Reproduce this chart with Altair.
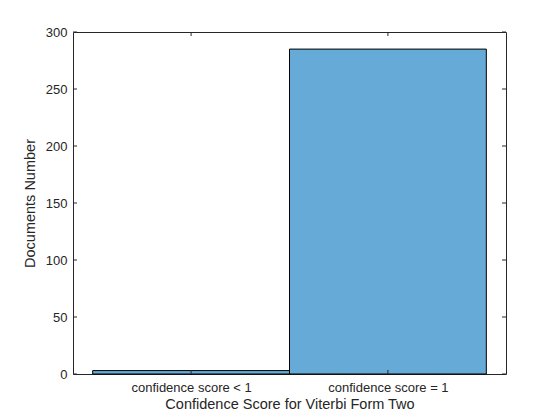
import altair as alt
import pandas as pd

categories = ["confidence score < 1", "confidence score = 1"]
counts = [3, 285]
y_ticks = [0, 50, 100, 150, 200, 250, 300]
x_ticks = [1, 2]

W, H = 433, 342
TL = 4  # inward tick length
FONT = "Liberation Sans"
TXT = "#262626"

bars_df = pd.DataFrame({
    "cat": categories,
    "count": counts,
    "pos": [i + 1 for i in range(len(categories))],
})
bars_df["x0"] = bars_df["pos"] - 0.5
bars_df["x1"] = bars_df["pos"] + 0.5
bars_df["base"] = 0

label_expr = "datum.value == 1 ? '" + categories[0] + "' : (datum.value == 2 ? '" + categories[1] + "' : '')"

xscale = alt.Scale(domain=[0.4, 2.6], nice=False, zero=False)
yscale = alt.Scale(domain=[0, 300], nice=False)

xaxis = alt.Axis(values=x_ticks, labelExpr=label_expr, title="Confidence Score for Viterbi Form Two",
                 tickSize=0, domain=False, grid=False, labelPadding=7, titlePadding=3,
                 labelFontSize=13, titleFontSize=14.5, labelColor=TXT, titleColor=TXT,
                 titleFontWeight="normal", labelFont=FONT, titleFont=FONT)
yaxis = alt.Axis(values=y_ticks, title="Documents Number", tickSize=0, domain=False, grid=False,
                 labelPadding=6, titlePadding=8, labelFontSize=13, titleFontSize=14.5,
                 labelColor=TXT, titleColor=TXT, titleFontWeight="normal",
                 labelFont=FONT, titleFont=FONT)

bars = alt.Chart(bars_df).mark_bar(
    color="#66AAD7", stroke="#000000", strokeWidth=1
).encode(
    x=alt.X("x0:Q", scale=xscale, axis=xaxis),
    x2="x1:Q",
    y=alt.Y("count:Q", scale=yscale, axis=yaxis),
    y2="base:Q",
)

ytick_df = pd.DataFrame({"v": y_ticks})
xtick_df = pd.DataFrame({"v": x_ticks})

ytl = alt.Chart(ytick_df).mark_rule(color=TXT, strokeWidth=1).encode(
    y=alt.Y("v:Q", scale=yscale, axis=yaxis), x=alt.value(0), x2=alt.value(TL))
ytr = alt.Chart(ytick_df).mark_rule(color=TXT, strokeWidth=1).encode(
    y=alt.Y("v:Q", scale=yscale, axis=yaxis), x=alt.value(W - TL), x2=alt.value(W))
xtb = alt.Chart(xtick_df).mark_rule(color=TXT, strokeWidth=1).encode(
    x=alt.X("v:Q", scale=xscale, axis=xaxis), y=alt.value(H - TL), y2=alt.value(H))
xtt = alt.Chart(xtick_df).mark_rule(color=TXT, strokeWidth=1).encode(
    x=alt.X("v:Q", scale=xscale, axis=xaxis), y=alt.value(0), y2=alt.value(TL))

chart = alt.layer(bars, ytl, ytr, xtb, xtt).properties(
    width=W, height=H,
    background="white",
    autosize=alt.AutoSizeParams(type="none"),
    padding={"left": 65, "top": 24, "right": 46, "bottom": 40},
).configure_view(
    stroke=TXT, strokeWidth=1
)

chart.save("out.html", embed_options={"renderer": "svg", "actions": False})
